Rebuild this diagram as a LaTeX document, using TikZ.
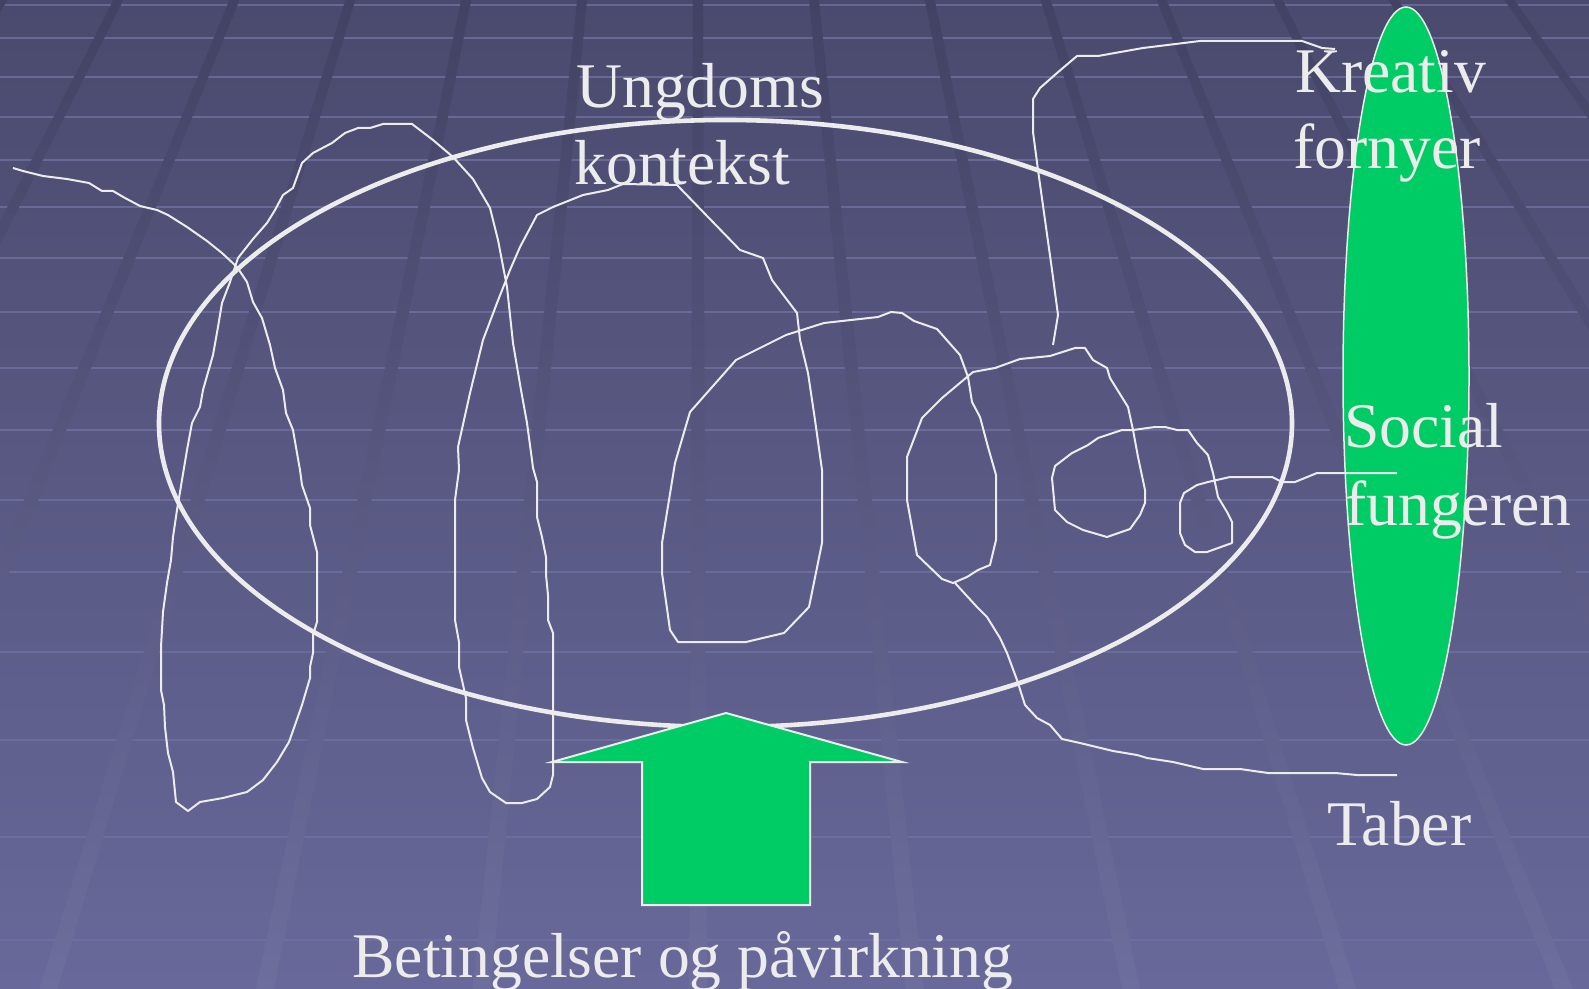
\documentclass[tikz,border=0pt]{standalone}
\usepackage{fontspec}
\setmainfont{Liberation Serif}
\usepackage{tikz}
\usepackage{xcolor}
\usetikzlibrary{shapes.geometric,positioning}
\definecolor{bgtop}{RGB}{74,74,110}
\definecolor{bgbot}{RGB}{104,104,154}
\definecolor{bandc}{RGB}{114,114,162}
\definecolor{stripetop}{RGB}{66,66,100}
\definecolor{stripebot}{RGB}{110,110,158}
\definecolor{ink}{RGB}{236,236,236}
\definecolor{grn}{RGB}{0,204,102}

\begin{document}
\begin{tikzpicture}[x=0.5pt, y=-0.5pt,
		lbl/.style={text=ink, font=\fontsize{31.8}{38}\selectfont, inner sep=0pt, anchor=base west},
		scribble/.style={draw=ink, line width=1pt, line join=round}]
				\useasboundingbox (0,0) rectangle (1589,989);
				\shade[top color=bgtop, bottom color=bgbot] (0,0) rectangle (1589,989);
				\foreach \y in {5,38,77,117,160,207,258,312,368,430,500,572,652,740,837,940}
					\draw[bandc, line width=1.3pt, opacity=0.75] (0,\y) -- (1589,\y);
				\begin{scope}
					\clip (0,0) rectangle (1589,989);
					\foreach \k in {-7,...,8}
						\shade[top color=stripetop, bottom color=stripebot] ({698+115.9*\k-5},0) -- ({698+115.9*\k+5},0) -- ({698+216.5*\k+9},989) -- ({698+216.5*\k-9},989) -- cycle;
				\end{scope}
				
				\node[ellipse, draw=ink, line width=0.75pt, fill=grn, minimum width=63pt, minimum height=369pt] (utfall) at (1406,376) {};
				\node[ellipse, draw=ink, line width=2.3pt, minimum width=566.5pt, minimum height=303.5pt] (kontekstring) at (725.5,423.5) {};
				
				\draw[scribble] plot coordinates {(13,168) (23,171) (43,176) (67,179) (89,183) (102,191) (113,191) (125,198) (140,206) (157,210) (168,215) (187,227) (207,241) (222,253) (237,267) (247,282) (253,302) (262,318) (270,345) (275,368) (283,390) (286,413) (293,430) (297,453) (300,470) (302,485) (310,508) (310,525) (317,552) (317,622) (313,635) (313,653) (310,667) (310,678) (302,705) (295,725) (289,742) (277,762) (263,780) (247,792) (223,798) (200,802) (188,811) (176,802) (173,772) (168,753) (165,727) (164,705) (161,690) (161,647) (163,612) (167,583) (171,560) (173,537) (177,510) (182,480) (187,450) (192,423) (200,407) (203,390) (213,355) (218,327) (222,303) (230,282) (238,258) (253,239) (267,223) (275,210) (283,195) (293,188) (302,163) (313,153) (332,143) (345,133) (358,128) (370,128) (383,124) (412,124) (433,140) (453,157) (473,179) (490,208) (498,240) (507,287) (513,343) (521,390) (527,423) (532,460) (533,468) (537,482) (537,517) (542,537) (546,557) (546,575) (548,595) (548,620) (553,633) (553,775) (550,787) (537,799) (522,803) (506,803) (490,792) (482,778) (473,748) (466,720) (466,698) (459,667) (459,642) (455,620) (455,500) (459,470) (458,447) (470,393) (483,340) (497,303) (510,270) (520,247) (537,215) (553,207) (583,195) (608,190) (623,184) (677,185) (740,250) (763,258) (772,280) (797,313) (800,340) (808,373) (815,420) (822,470) (822,543) (809,607) (784,633) (746,642) (678,642) (670,630) (662,573) (662,543) (675,463) (690,412) (736,360) (786,335) (824,323) (878,317) (891,312) (902,313) (914,321) (937,329) (960,355) (968,377) (972,402) (980,417) (988,447) (996,475) (996,540) (990,565) (978,570) (967,577) (953,583) (942,579) (917,555) (907,500) (907,457) (922,418) (942,398) (973,372) (995,368) (1020,359) (1050,356) (1075,348) (1085,348) (1093,360) (1107,368) (1110,378) (1128,407) (1133,430) (1138,457) (1145,490) (1145,503) (1140,515) (1130,529) (1107,537) (1083,530) (1067,522) (1055,510) (1052,478) (1055,466) (1072,453) (1088,445) (1098,438) (1122,430) (1133,430) (1155,427) (1165,427) (1177,430) (1188,430) (1197,443) (1208,455) (1213,473) (1218,497) (1227,512) (1232,522) (1232,543) (1207,552) (1195,552) (1185,545) (1180,533) (1180,503) (1184,493) (1197,485) (1208,482) (1230,477) (1272,477) (1282,482) (1295,482) (1317,473) (1397,473)};
				\draw[scribble] plot coordinates {(955,583) (977,607) (987,617) (1000,638) (1007,653) (1017,680) (1025,705) (1037,718) (1050,725) (1062,739) (1080,743) (1113,751) (1137,755) (1147,758) (1173,762) (1203,769) (1240,769) (1268,773) (1335,773) (1357,775) (1397,775)};
				\draw[scribble] plot coordinates {(1335,49) (1322,48) (1302,41) (1200,41) (1143,48) (1098,56) (1077,56) (1057,73) (1040,88) (1033,99) (1033,132) (1038,170) (1045,220) (1052,270) (1058,315) (1053,345)};
				
				\draw[ink, line width=1pt, fill=grn] (552,762) -- (726,713) -- (902,762) -- (810,762) -- (810,905) -- (642,905) -- (642,762) -- cycle;
				
				\node[lbl] (ungdoms) at (576,108) {Ungdoms};
				\node[lbl] (kontekst) at ([xshift=-1pt, yshift=-38.5pt]ungdoms.base west) {kontekst};
				\node[lbl] (kreativ) at (1295,93) {Kreativ};
				\node[lbl] (fornyer) at ([xshift=-1pt, yshift=-38pt]kreativ.base west) {fornyer};
				\node[lbl] (social) at (1344,447) {Social};
				\node[lbl] (fungeren) at ([xshift=0.5pt, yshift=-39pt]social.base west) {fungeren};
				\node[lbl] (taber) at (1327,845) {Taber};
				\node[lbl] (betingelser) at (352,977) {Betingelser og påvirkning};
			\end{tikzpicture}
\end{document}
